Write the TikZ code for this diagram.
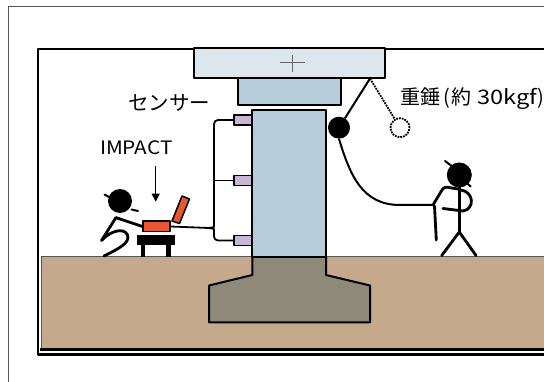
\documentclass[tikz,border=0pt]{standalone}
\usepackage{fontspec}
\newfontfamily\jpfont{Noto Sans CJK JP}
\usetikzlibrary{arrows.meta}

\definecolor{groundc}{HTML}{C4A98D}
\definecolor{footc}{HTML}{8E8978}
\definecolor{pierc}{HTML}{B7CCD9}
\definecolor{capc}{HTML}{DCE6EC}
\definecolor{sensc}{HTML}{C8B6D6}
\definecolor{lapc}{HTML}{E8552E}
\definecolor{framec}{HTML}{555555}

\begin{document}
\begin{tikzpicture}[x=1pt, y=-1pt, line join=round,
  stick/.style={line width=2.8pt, line cap=round, line join=round},
  tick/.style={line width=2pt, line cap=round},
  outline/.style={draw=black, line width=2pt},
  sensor/.style={draw=black, line width=1.5pt, fill=sensc, minimum width=17.3pt,
                 minimum height=10pt, inner sep=0pt},
  head/.style={circle, fill=black, inner sep=0pt},
  wire/.style={line width=1.8pt, rounded corners=4pt},
  label/.style={font=\jpfont, inner sep=0pt}]
\useasboundingbox (0,0) rectangle (544,382);
\clip (0,0) rectangle (544,382);
\fill[white] (0,0) rectangle (544,382);

% outer and inner frames
\draw[framec, line width=1.6pt] (8.5,400) -- (8.5,6.7) -- (560,6.7);
\draw[black, line width=2.2pt] (37.8,354.5) rectangle (560,48.8);

% ground
\fill[groundc] (41.3,256.7) rectangle (560,349.5);
\draw[framec, line width=1.5pt] (560,256.7) -- (41.3,256.7) -- (41.3,349.5);
\draw[black, line width=2.4pt] (40.2,349.6) -- (560,349.6);

% footing, pier, bearing and cap beam
\draw[outline, fill=footc] (252.3,256.7) -- (252.3,275) -- (209,285.5) -- (209,322.3)
  -- (370,322.3) -- (370,285.5) -- (326,275) -- (326,256.7) -- cycle;
\draw[outline, fill=pierc] (252.3,256.7) rectangle (326,110);
\draw[outline, fill=pierc] (238.3,105.3) rectangle (340.7,77.7);
\draw[outline, fill=capc] (194,48.3) rectangle (385,77.7);
\draw[black!60, line width=0.9pt] (279.5,62.5) -- (305,62.5) (292.2,55) -- (292.2,72);

% sensors and wiring
\node[sensor] (s1) at (242.8,120) {};
\node[sensor] (s2) at (242.8,180.5) {};
\node[sensor] (s3) at (242.8,240.5) {};
\coordinate (junc) at (209,228);
\draw[wire] (s1.west) -- (214,120) -- (214,223) .. controls (214,226.5) and (212,228) .. (junc);
\draw[wire] (junc) .. controls (212,228) and (214,229.5) .. (214,233) -- (214,240.5) -- (s3.west);
\draw[wire] (s2.west) -- (214,180.5);

% laptop on a stool
\fill[black] (136.7,235) rectangle (175,245.5);
\fill[black] (141,245) rectangle (145.3,256.7);
\fill[black] (166.3,245) rectangle (170.7,256.7);
\node[draw=black, line width=1.5pt, fill=lapc, minimum width=27pt, minimum height=10.5pt,
      inner sep=0pt] (lapbase) at (156.7,226.5) {};
\draw[line width=1.5pt, fill=lapc] (172,221) -- (179.5,223.5) -- (189.5,199) -- (182,196) -- cycle;
\draw[wire] (lapbase.east) -- (junc);

% seated operator
\node[head, minimum size=24pt] (headL) at (120,201) {};
\draw[tick] (104.5,194.5) -- (109.5,197.2);
\draw[tick] (131.5,209.5) -- (138,211);
\draw[stick] (116.5,217.8) -- (lapbase.west);
\draw[stick] (116,217.5) -- (101.5,240.5) .. controls (110,231) and (124,227) .. (127.5,235)
  .. controls (130.5,243) and (118,249) .. (104,256);

% hammer on its rope
\coordinate (hook) at (370,78.5);
\node[head, minimum size=22pt] (ball) at (339,127.7) {};
\node[circle, draw=black, densely dotted, line width=1.8pt, minimum size=19pt, inner sep=0pt]
  (ghost) at (400,127.7) {};
\draw[line width=2pt] (hook) -- (ball);
\draw[densely dotted, line width=1.8pt] (hook) -- (ghost);

% standing worker
\node[head, minimum size=25pt] (headR) at (459.3,175) {};
\coordinate (hand) at (433,205);
\draw[line width=2pt] (ball.south) .. controls (350,175) and (362,205) .. (400,205) -- (hand);
\draw[tick] (445,161) -- (451.7,166);
\draw[tick] (467,183.3) -- (470.7,186.5);
\draw[stick] (459.3,186) -- (459.3,232);
\draw[stick] (441.7,255.5) -- (459.3,232) -- (476,255.5);
\draw[stick, rounded corners=3pt] (458,189) -- (444,186.7) -- (hand);
\draw[stick] (434.5,206) -- (436.3,240);
\draw[stick] (461,190) .. controls (474,192) and (475,209) .. (463,211) -- (443,208.5);

% labels
\node[label, font=\jpfont\fontsize{20.5}{22}\selectfont] (sensorlabel) at (169,102.5) {センサー};
\node[label, font=\jpfont\fontsize{18.5}{20}\selectfont, anchor=base] (impact) at (136.3,155)
  {\scalebox{1.12}[1]{IMPACT}};
\draw[line width=1.4pt, -{Triangle[length=8pt, width=8pt]}] (155.7,165.7) -- (155.7,201.7);
\node[label, font=\jpfont\fontsize{20}{22}\selectfont, anchor=west] (weight) at (400.5,98.5)
  {重錘\kern3pt(\kern1pt約\kern6pt\scalebox{1.18}[1]{30kgf})};
\end{tikzpicture}
\end{document}
